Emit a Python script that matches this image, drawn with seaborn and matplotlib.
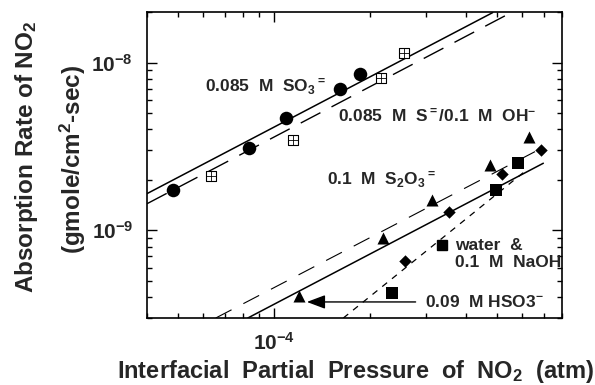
import numpy as np
import matplotlib
matplotlib.use('Agg')
import matplotlib.pyplot as plt
from matplotlib.ticker import FixedLocator, FixedFormatter, LogLocator, NullFormatter
import seaborn as sns

# absorption data (pressure in atm, rate in gmole/cm2-sec)
so3_x = [4.84e-5, 8.38e-5, 1.09e-4, 1.61e-4, 1.86e-4]
so3_y = [1.75e-9, 3.08e-9, 4.64e-9, 7.0e-9, 8.6e-9]

sulfide_x = [6.36e-5, 1.146e-4, 2.17e-4, 2.55e-4]
sulfide_y = [2.12e-9, 3.43e-9, 8.14e-9, 1.147e-8]

thio_x = [1.2e-4, 2.2e-4, 3.12e-4, 4.75e-4, 6.28e-4]
thio_y = [4.05e-10, 9.05e-10, 1.51e-9, 2.44e-9, 3.59e-9]

diamond_x = [2.57e-4, 3.53e-4, 5.19e-4, 6.85e-4]
diamond_y = [6.54e-10, 1.28e-9, 2.18e-9, 3.03e-9]

square_x = [2.35e-4, 4.97e-4, 5.81e-4]
square_y = [4.2e-10, 1.73e-9, 2.52e-9]

# fitted lines (end points)
so3_fit_x = [4e-5, 4.85e-4]
so3_fit_y = [1.654e-9, 1.984e-8]
sulfide_fit_x = [4e-5, 5.54e-4]
sulfide_fit_y = [1.44e-9, 1.984e-8]
thio_fit_x = [6.57e-5, 6.89e-4]
thio_fit_y = [3.0e-10, 3.08e-9]
mid_fit_x = [8.28e-5, 6.99e-4]
mid_fit_y = [3.0e-10, 2.51e-9]
water_fit_x = [1.65e-4, 6.18e-4]
water_fit_y = [3.0e-10, 2.28e-9]

arrow_x = [2.78e-4, 1.268e-4]
arrow_y = [3.74e-10, 3.74e-10]

sns.set_style('ticks')
plt.rcParams['font.family'] = ['Liberation Sans', 'DejaVu Sans']
plt.rcParams['font.weight'] = 'bold'
plt.rcParams['mathtext.fontset'] = 'custom'
plt.rcParams['mathtext.rm'] = 'Liberation Sans:bold'
plt.rcParams['mathtext.bf'] = 'Liberation Sans:bold'
plt.rcParams['mathtext.it'] = 'Liberation Sans:bold'
plt.rcParams['mathtext.default'] = 'rm'

fig = plt.figure(figsize=(5.95, 3.85), dpi=100)
ax = fig.add_axes([0.2471, 0.1740, 0.6975, 0.7948])
ax.set_xscale('log')
ax.set_yscale('log')

# fit lines
ax.plot(so3_fit_x, so3_fit_y, color='black', lw=1.1)
ax.plot(sulfide_fit_x, sulfide_fit_y, color='black', lw=1.0, dashes=(16, 9))
ax.plot(thio_fit_x, thio_fit_y, color='black', lw=0.8, dashes=(16, 12))
ax.plot(mid_fit_x, mid_fit_y, color='black', lw=1.1)
ax.plot(water_fit_x, water_fit_y, color='black', lw=0.9, dashes=(5, 5))

# data points
sns.scatterplot(x=so3_x, y=so3_y, marker='o', s=95, color='black', linewidth=0, ax=ax, zorder=3)
sns.scatterplot(x=sulfide_x, y=sulfide_y, marker='s', s=55, color='white', edgecolor='black',
                linewidth=0.8, ax=ax, zorder=3)
sns.scatterplot(x=sulfide_x, y=sulfide_y, marker='+', s=55, color='black', linewidth=0.6, ax=ax, zorder=4)
sns.scatterplot(x=thio_x, y=thio_y, marker='^', s=75, color='black', linewidth=0, ax=ax, zorder=3)
sns.scatterplot(x=diamond_x, y=diamond_y, marker='D', s=40, color='black', linewidth=0, ax=ax, zorder=3)
sns.scatterplot(x=square_x, y=square_y, marker='s', s=75, color='black', linewidth=0, ax=ax, zorder=3)

ax.annotate('', xy=(arrow_x[1], arrow_y[1]), xytext=(arrow_x[0], arrow_y[0]),
            arrowprops=dict(arrowstyle='-|>,head_length=0.8,head_width=0.3', color='black',
                            lw=1.0, mutation_scale=14, shrinkA=0, shrinkB=0))

ax.set_xlim(4e-5, 8e-4)
ax.set_ylim(3e-10, 2e-8)

ax.xaxis.set_major_locator(FixedLocator([1e-4]))
ax.xaxis.set_major_formatter(FixedFormatter([r'$10^{-4}$']))
ax.yaxis.set_major_locator(FixedLocator([1e-9, 1e-8]))
ax.yaxis.set_major_formatter(FixedFormatter([r'$10^{-9}$', r'$10^{-8}$']))
for axis in (ax.xaxis, ax.yaxis):
    axis.set_minor_locator(LogLocator(base=10, subs=np.arange(2, 10)))
    axis.set_minor_formatter(NullFormatter())

ax.tick_params(which='both', direction='in', top=True, right=True, color='black', width=1.0)
ax.tick_params(which='major', length=7, labelsize=15, pad=10)
ax.tick_params(which='minor', length=3.5)
for sp in ax.spines.values():
    sp.set_linewidth(1.2)
    sp.set_color('black')

# curve labels
tk = dict(transform=ax.transAxes, fontsize=12.5, fontweight='bold', va='baseline', ha='left')
ax.text(0.140, 0.7395, r'0.085  M  SO$_3$$^{=}$', **tk)
ax.text(0.460, 0.6415, r'0.085  M  S$^{=}$/0.1  M  OH$^{-}$', **tk)
ax.text(0.433, 0.4346, r'0.1  M  S$_2$O$_3$$^{=}$', **tk)
ax.plot([0.711], [0.2386], marker='s', ms=7.5, color='black', linestyle='none',
        transform=ax.transAxes, clip_on=False)
ax.text(0.742, 0.2222, 'water  &', **tk)
ax.text(0.742, 0.1657, '0.1  M  NaOH', **tk)
ax.text(0.670, 0.0369, r'0.09  M HSO3$^{-}$', **tk)

# axis titles
fig.text(0.598, 0.018, r'Interfacial  Partial  Pressure  of  NO$_2$  (atm)',
         ha='center', va='baseline', fontsize=17, fontweight='bold')
fig.text(0.044, 0.592, r'Absorption Rate of NO$_2$', rotation=90,
         ha='center', va='center', fontsize=17.5, fontweight='bold')
fig.text(0.122, 0.587, r'(gmole/cm$^2$-sec)', rotation=90,
         ha='center', va='center', fontsize=17.5, fontweight='bold')

fig.savefig('out.png', dpi=100)
